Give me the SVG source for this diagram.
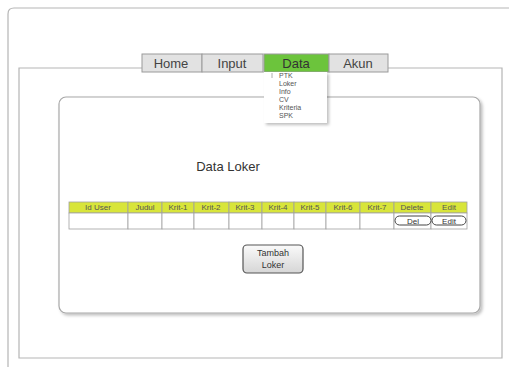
<svg xmlns="http://www.w3.org/2000/svg" width="509" height="367" viewBox="0 0 509 367">
<defs>
<style>
text{font-family:"Liberation Sans","DejaVu Sans",sans-serif;fill:#333}
.frame{fill:none;stroke:#b5b5b5;stroke-width:1.2}
.tab{fill:#e2e2e2;stroke:#9a9a9a;stroke-width:1}
.tabt{font-size:13px;text-anchor:middle;fill:#444}
.hd{fill:#d8e53a;stroke:#a0a0a0;stroke-width:0.8}
.cell{fill:#fff;stroke:#a0a0a0;stroke-width:0.8}
.ht{font-size:8px;text-anchor:middle;fill:#555}
.menu{font-size:7px;fill:#555}
.pill{fill:#fff;stroke:#444;stroke-width:1}
</style>
<linearGradient id="btn" x1="0" y1="0" x2="0" y2="1">
<stop offset="0" stop-color="#fafafa"/>
<stop offset="1" stop-color="#d6d6d6"/>
</linearGradient>
<filter id="sh" x="-5%" y="-5%" width="112%" height="115%">
<feDropShadow dx="2" dy="2" stdDeviation="1.5" flood-color="#000" flood-opacity="0.25"/>
</filter>
</defs>
<rect width="509" height="367" fill="#fff"/>
<g id="outer">
<path class="frame" d="M8,368 V14 Q8,8 14,8 H509"/>
<path class="frame" d="M142,68 H19 V358 H502 V68 H388"/>
</g>
<g id="panel">
<rect x="59" y="97" width="421" height="216" rx="7" fill="#fff" stroke="#a8a8a8" stroke-width="1.2" filter="url(#sh)"/>
</g>
<g id="tabs">
<g id="tab-home"><rect class="tab" x="142" y="54" width="60" height="18"/><text class="tabt" x="171" y="68">Home</text></g>
<g id="tab-input"><rect class="tab" x="202" y="54" width="61" height="18"/><text class="tabt" x="232" y="68">Input</text></g>
<g id="tab-data"><rect x="264" y="54" width="65" height="18" fill="#6cc43c" stroke="#9a9a9a"/><text class="tabt" x="296" y="68" style="fill:#333">Data</text></g>
<g id="tab-akun"><rect class="tab" x="329" y="54" width="59" height="18"/><text class="tabt" x="358" y="68">Akun</text></g>
</g>
<g id="dropdown">
<rect x="264" y="72" width="63" height="51" fill="#fff" filter="url(#sh)"/>
<line x1="272" y1="73" x2="272" y2="78" stroke="#999" stroke-width="0.8"/>
<text class="menu" x="279" y="78">PTK</text>
<text class="menu" x="279" y="86">Loker</text>
<text class="menu" x="279" y="94">Info</text>
<text class="menu" x="279" y="102">CV</text>
<text class="menu" x="279" y="110">Kriteria</text>
<text class="menu" x="279" y="118">SPK</text>
</g>
<g id="title"><text x="228" y="171" font-size="13" text-anchor="middle">Data Loker</text></g>
<g id="table">
<rect class="hd" x="69" y="202" width="59" height="11"/>
<rect class="hd" x="128" y="202" width="34" height="11"/>
<rect class="hd" x="162" y="202" width="32" height="11"/>
<rect class="hd" x="194" y="202" width="35" height="11"/>
<rect class="hd" x="229" y="202" width="33" height="11"/>
<rect class="hd" x="262" y="202" width="32" height="11"/>
<rect class="hd" x="294" y="202" width="32" height="11"/>
<rect class="hd" x="326" y="202" width="34" height="11"/>
<rect class="hd" x="360" y="202" width="34" height="11"/>
<rect class="hd" x="394" y="202" width="37" height="11"/>
<rect class="hd" x="431" y="202" width="36" height="11"/>
<rect class="cell" x="69" y="213" width="59" height="16"/>
<rect class="cell" x="128" y="213" width="34" height="16"/>
<rect class="cell" x="162" y="213" width="32" height="16"/>
<rect class="cell" x="194" y="213" width="35" height="16"/>
<rect class="cell" x="229" y="213" width="33" height="16"/>
<rect class="cell" x="262" y="213" width="32" height="16"/>
<rect class="cell" x="294" y="213" width="32" height="16"/>
<rect class="cell" x="326" y="213" width="34" height="16"/>
<rect class="cell" x="360" y="213" width="34" height="16"/>
<rect class="cell" x="394" y="213" width="37" height="16"/>
<rect class="cell" x="431" y="213" width="36" height="16"/>
<text class="ht" x="98" y="210">Id User</text>
<text class="ht" x="145" y="210">Judul</text>
<text class="ht" x="178" y="210">Krit-1</text>
<text class="ht" x="211" y="210">Krit-2</text>
<text class="ht" x="245" y="210">Krit-3</text>
<text class="ht" x="278" y="210">Krit-4</text>
<text class="ht" x="310" y="210">Krit-5</text>
<text class="ht" x="343" y="210">Krit-6</text>
<text class="ht" x="377" y="210">Krit-7</text>
<text class="ht" x="412" y="210">Delete</text>
<text class="ht" x="449" y="210">Edit</text>
</g>
<g id="btn-del"><rect class="pill" x="395" y="216" width="36" height="9" rx="4.5"/><text class="ht" x="413" y="223.5" style="fill:#333">Del</text></g>
<g id="btn-edit"><rect class="pill" x="432" y="216" width="34" height="9" rx="4.5"/><text class="ht" x="449" y="223.5" style="fill:#333">Edit</text></g>
<g id="btn-tambah">
<rect x="243" y="245" width="60" height="28" rx="4" fill="url(#btn)" stroke="#555" stroke-width="1.2"/>
<text x="273" y="256" font-size="9" text-anchor="middle">Tambah</text>
<text x="273" y="268" font-size="9" text-anchor="middle">Loker</text>
</g>
<g id="connectors"/>
</svg>
